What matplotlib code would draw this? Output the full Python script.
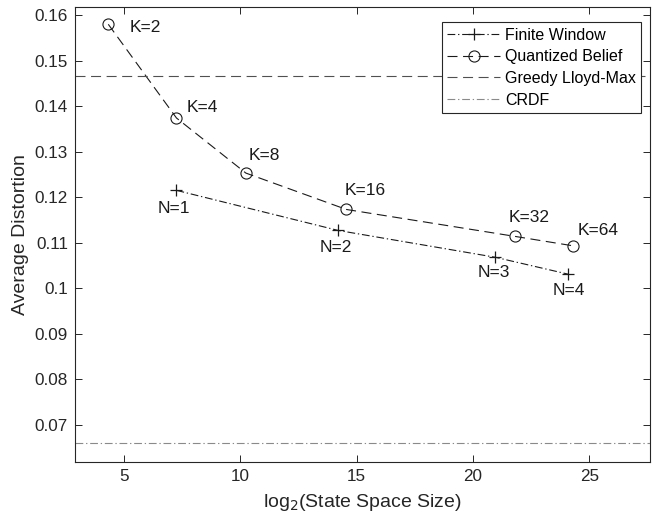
import matplotlib
matplotlib.use("Agg")
import matplotlib.pyplot as plt

plt.rcParams['font.family'] = ['Liberation Sans', 'DejaVu Sans']

fw_x = [7.26, 14.2, 20.95, 24.07]
fw_y = [0.1215, 0.1127, 0.1068, 0.1031]
fw_labels = ["N=1", "N=2", "N=3", "N=4"]

qb_x = [4.33, 7.26, 10.24, 14.56, 21.78, 24.31]
qb_y = [0.1580, 0.1374, 0.1253, 0.1173, 0.1114, 0.1093]
qb_labels = ["K=2", "K=4", "K=8", "K=16", "K=32", "K=64"]

greedy_val = 0.1467
crdf_val = 0.0659

fig = plt.figure(figsize=(6.52, 5.23), dpi=100)
ax = fig.add_axes([75/652, 1 - 462/523, (650 - 75)/652, (462 - 7)/523])

ax.plot(fw_x, fw_y, linestyle=(0, (7, 2.5, 1.2, 2.5)), color='#1a1a1a', linewidth=0.8,
        marker='+', markersize=9, markeredgewidth=0.9, label='Finite Window')
ax.plot(qb_x, qb_y, linestyle=(0, (9, 5)), color='#1a1a1a', linewidth=0.8,
        marker='o', markersize=8, markerfacecolor='none', markeredgewidth=0.8,
        label='Quantized Belief')
ax.axhline(greedy_val, linestyle=(0, (9, 5)), color='#505050', linewidth=0.8,
           label='Greedy Lloyd-Max')
ax.axhline(crdf_val, linestyle=(0, (7, 2.5, 1.2, 2.5)), color='#8a8a8a', linewidth=0.8,
           label='CRDF')

qb_off = [(21, -3), (10, 11), (3, 18), (-2, 19), (-6, 19), (4, 15)]
for x, y, t, (dx, dy) in zip(qb_x, qb_y, qb_labels, qb_off):
    ax.annotate(t, (x, y), xytext=(dx * 0.72, dy * 0.72), textcoords='offset points',
                ha='left', va='center', fontsize=12.5, color='#1a1a1a')
fw_off = [(-19, -18), (-18, -17), (-18, -15), (-15, -16)]
for x, y, t, (dx, dy) in zip(fw_x, fw_y, fw_labels, fw_off):
    ax.annotate(t, (x, y), xytext=(dx * 0.72, dy * 0.72), textcoords='offset points',
                ha='left', va='center', fontsize=12.5, color='#1a1a1a')

ax.set_xlim(2.9, 27.6)
ax.set_ylim(0.0618, 0.1618)
ax.set_xticks([5, 10, 15, 20, 25])
ax.set_yticks([0.07, 0.08, 0.09, 0.10, 0.11, 0.12, 0.13, 0.14, 0.15, 0.16])
ax.set_yticklabels(['0.07', '0.08', '0.09', '0.1', '0.11', '0.12', '0.13', '0.14', '0.15', '0.16'])
ax.tick_params(direction='in', top=True, right=True, length=5, width=0.7,
               colors='#262626', labelsize=12.3, pad=5)
for s in ax.spines.values():
    s.set_color('#262626')
    s.set_linewidth(0.8)

ax.set_xlabel(r'log$_2$(State Space Size)', fontsize=14, color='#262626', labelpad=6)
ax.set_ylabel('Average Distortion', fontsize=14, color='#262626', labelpad=4)

leg = ax.legend(loc='upper right', fontsize=11.5, frameon=True, fancybox=False,
                edgecolor='#262626', framealpha=1, borderpad=0.35, handlelength=3.3,
                handletextpad=0.3, labelspacing=0.42, borderaxespad=0,
                bbox_to_anchor=(0.985, 0.967))
leg.get_frame().set_linewidth(0.8)

fig.savefig('out.png', dpi=100)
